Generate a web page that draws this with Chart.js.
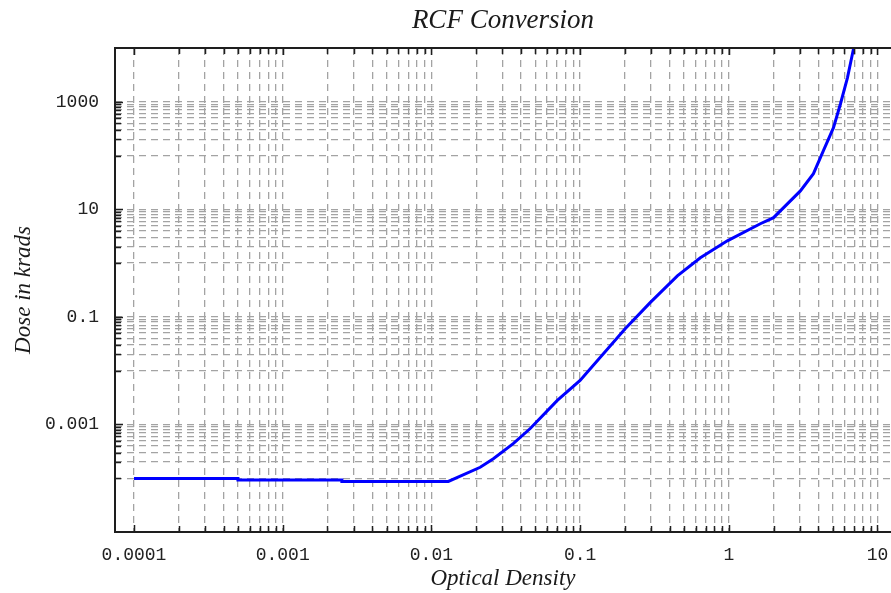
<!DOCTYPE html>
<html>
<head>
<meta charset="utf-8">
<title>RCF Conversion</title>
<script src="https://cdn.jsdelivr.net/npm/chart.js@4/dist/chart.umd.min.js"></script>
<style>
    html, body { margin: 0; padding: 0; background: #fff; overflow: hidden; }
    canvas { display: block; }
</style>
</head>
<body>
<canvas id="rcf" width="891" height="593"></canvas>
<script>
// --- Dati della curva (densità ottica -> dose) ---
const opticalDensity = [
    0.0001, 0.0005, 0.0005, 0.0025, 0.0025, 0.013, 0.0213, 0.0261, 0.0355,
    0.0462, 0.0703, 0.1, 0.201, 0.296, 0.451, 0.644, 0.978, 1.63, 2.0,
    3.03, 3.71, 4.33, 5.06, 5.64, 6.28, 6.9, 7.2
];
const doseKrads = [
    0.000099, 0.000099, 0.000093, 0.000093, 0.000087, 0.000087, 0.00016, 0.00023, 0.00044,
    0.00084, 0.0028, 0.0066, 0.060, 0.184, 0.58, 1.26, 2.6, 5.4, 7.0,
    22, 46, 123, 330, 920, 2790, 9660, 14000
];

// --- Etichette degli assi ---
const xTickLabels = ['0.0001', '0.001', '0.01', '0.1', '1', '10'];
const yTickLabels = ['0.001', '0.1', '10', '1000'];

// il bordo destro dell'asse X cade oltre la finestra
const X_MIN = 7.45e-5, X_MAX = 12.33;
const Y_MIN = 1e-5, Y_MAX = 1e4;

const GRID_COLOR = '#a3a3a3';
const AXIS_COLOR = '#1e1e1e';
const MONO = 'Liberation Mono';
const SERIF = 'Liberation Serif';

// griglia X: 1..9 x ogni decade etichettata
function buildXTicks(scale) {
    const ticks = [];
    xTickLabels.forEach(lbl => {
        const base = Number(lbl);
        for (let k = 1; k <= 9; k++) {
            const v = base * k;
            if (v >= X_MIN && v <= X_MAX) ticks.push({ value: v, lbl: k === 1 ? lbl : '' });
        }
    });
    scale.ticks = ticks;
}

// griglia Y: 0.1..0.9 x ogni valore etichettato (una decade ogni due)
function buildYTicks(scale) {
    const ticks = [];
    yTickLabels.forEach(lbl => {
        const base = Number(lbl);
        ticks.push({ value: base, lbl: lbl });
        for (let k = 1; k <= 9; k++) {
            const v = base * k / 10;
            if (v >= Y_MIN && v <= Y_MAX) ticks.push({ value: v, lbl: '' });
        }
    });
    ticks.sort((a, b) => a.value - b.value);
    scale.ticks = ticks;
}

// cornice (sinistra, sopra, sotto) e tacche interne
const framePlugin = {
    id: 'frame',
    afterDatasetsDraw(chart) {
        const { ctx, chartArea: a, scales } = chart;
        ctx.save();
        ctx.strokeStyle = AXIS_COLOR;
        ctx.lineWidth = 1.5;
        ctx.setLineDash([]);
        ctx.beginPath();
        scales.x.ticks.forEach(t => {
            const px = Math.round(scales.x.getPixelForValue(t.value)) + 0.5;
            const len = t.lbl ? 7 : 6;
            ctx.moveTo(px, a.bottom); ctx.lineTo(px, a.bottom - len);
            ctx.moveTo(px, a.top); ctx.lineTo(px, a.top + len);
        });
        scales.y.ticks.forEach(t => {
            const py = Math.round(scales.y.getPixelForValue(t.value)) + 0.5;
            const len = t.lbl ? 8 : 6;
            ctx.moveTo(a.left, py); ctx.lineTo(a.left + len, py);
        });
        ctx.stroke();
        ctx.lineWidth = 2;
        ctx.beginPath();
        ctx.moveTo(a.right + 2, a.top);
        ctx.lineTo(a.left, a.top);
        ctx.lineTo(a.left, a.bottom);
        ctx.lineTo(a.right + 2, a.bottom);
        ctx.stroke();
        ctx.restore();
    }
};

const ctx = document.getElementById('rcf').getContext('2d');
new Chart(ctx, {
    type: 'line',
    data: {
        datasets: [{
            label: 'Dose',
            data: opticalDensity.map((od, i) => ({ x: od, y: doseKrads[i] })),
            borderColor: '#0000ff',
            borderWidth: 3,
            pointRadius: 0,
            tension: 0,
            fill: false
        }]
    },
    options: {
        responsive: false,
        animation: false,
        devicePixelRatio: 1,
        layout: { padding: 0 },
        plugins: {
            legend: { display: false },
            tooltip: { enabled: false },
            title: {
                display: true,
                text: 'RCF Conversion',
                fullSize: false,
                color: '#1a1a1a',
                font: { family: SERIF, style: 'italic', size: 27, weight: 'normal' },
                padding: { top: 5, bottom: 10.6 }
            }
        },
        scales: {
            x: {
                type: 'logarithmic',
                bounds: 'data',
                min: X_MIN,
                max: X_MAX,
                afterBuildTicks: buildXTicks,
                afterFit: s => {
                    s.height = 61;
                    // niente margini extra per le etichette agli estremi
                    s.paddingLeft = 0;
                    s.paddingRight = 0;
                },
                grid: { color: GRID_COLOR, lineWidth: 1.3, drawTicks: false },
                border: { display: false, dash: [7, 5] },
                ticks: {
                    autoSkip: false,
                    maxRotation: 0,
                    padding: 12,
                    color: '#222',
                    font: { family: MONO, size: 18 },
                    callback: (v, i, t) => t[i].lbl
                },
                title: {
                    display: true,
                    text: 'Optical Density',
                    color: '#1a1a1a',
                    font: { family: SERIF, style: 'italic', size: 23 },
                    padding: { top: 0, bottom: 0 }
                }
            },
            y: {
                type: 'logarithmic',
                bounds: 'data',
                min: Y_MIN,
                max: Y_MAX,
                afterBuildTicks: buildYTicks,
                afterFit: s => { s.width = 115; },
                grid: { color: GRID_COLOR, lineWidth: 1.3, drawTicks: false },
                border: { display: false, dash: [7, 5] },
                ticks: {
                    autoSkip: false,
                    padding: 16,
                    color: '#222',
                    font: { family: MONO, size: 18 },
                    callback: (v, i, t) => t[i].lbl
                },
                title: {
                    display: true,
                    text: 'Dose in krads',
                    color: '#1a1a1a',
                    font: { family: SERIF, style: 'italic', size: 23 },
                    padding: { top: 10, bottom: 0 }
                }
            }
        }
    },
    plugins: [framePlugin]
});
</script>
</body>
</html>
